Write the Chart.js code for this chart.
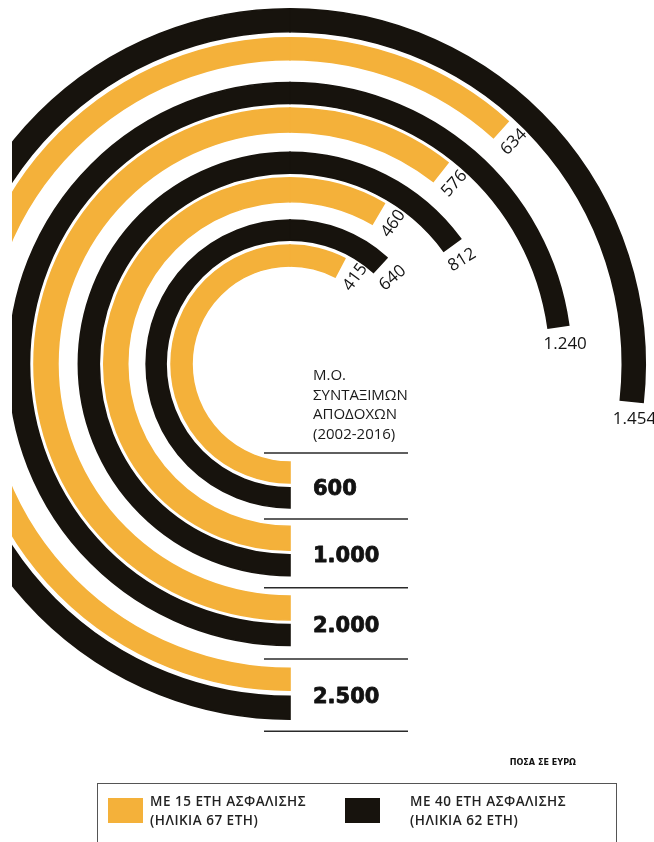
<!DOCTYPE html>
<html lang="el">
<head>
<meta charset="utf-8">
<script src="https://cdn.jsdelivr.net/npm/chart.js@4.4.1/dist/chart.umd.min.js"></script>
<style>
  html, body { margin:0; padding:0; width:654px; height:842px; overflow:hidden; background:#ffffff; }
  #clip { position:absolute; left:12px; top:0; width:642px; height:842px; overflow:hidden; }
  #wrap { position:absolute; left:-78px; top:0; width:740px; height:842px; }
  #header { position:absolute; left:313px; top:365px; font-family:"Open Sans", sans-serif; font-weight:500; font-size:15px; line-height:19.5px; color:#1a1a1a; }
  #unit { position:absolute; right:78px; top:757px; font-family:"DejaVu Sans Condensed","DejaVu Sans",sans-serif; font-weight:bold; font-size:9px; color:#111; }
  #legend { position:absolute; left:97px; top:783px; width:520px; height:80px; border:1px solid #555; box-sizing:border-box; }
  .sw { position:absolute; width:35px; height:25px; }
  .txt { position:absolute; font-family:"Open Sans", sans-serif; font-weight:600; font-size:13.5px; letter-spacing:0.5px; line-height:19px; color:#222; white-space:pre; }
</style>
</head>
<body>
<div id="clip"><div id="wrap"><canvas id="c"></canvas></div></div>
<div id="header">Μ.Ο.<br>ΣΥΝΤΑΞΙΜΩΝ<br>ΑΠΟΔΟΧΩΝ<br>(2002-2016)</div>
<div id="unit">ΠΟΣΑ ΣΕ ΕΥΡΩ</div>
<div id="legend"></div>
<script>
// ---------------- DATA ----------------
const categories = [600, 1000, 2000, 2500];          // average pensionable earnings (2002-2016)
const series15Name = ['ΜΕ 15 ΕΤΗ ΑΣΦΑΛΙΣΗΣ', '(ΗΛΙΚΙΑ 67 ΕΤΗ)'];
const series15 = [415, 460, 576, 634];
const series40Name = ['ΜΕ 40 ΕΤΗ ΑΣΦΑΛΙΣΗΣ', '(ΗΛΙΚΙΑ 62 ΕΤΗ)'];
const series40 = [640, 812, 1240, 1454];
// value swept by a quarter turn (measured clockwise from 12 o'clock)
const quarterTurnValue = 1360;

// ---------------- STYLE / LAYOUT ----------------
const YELLOW = '#F4B13A';
const BLACK = '#17130D';
const CLEAR = 'rgba(0,0,0,0)';
const innerRadiusPx = 98;
const pairLayout = [
  { y: 21, gap: 5,   b: 20 },
  { y: 24, gap: 4.5, b: 21 },
  { y: 24, gap: 4.5, b: 21 },
  { y: 22, gap: 6,   b: 23 }
];
const pairGaps = [18.5, 20.5, 23];

function fmt(v) {
  return String(v).replace(/\B(?=(\d{3})+(?!\d))/g, '.');
}

// ---------------- BUILD DATASETS (outer -> inner) ----------------
const datasets = [];
const valueRefs = [];
const pairRefs = [];
function ring(value, color, weight) {
  const half = 2 * quarterTurnValue;
  return {
    data: [half, value, 2 * quarterTurnValue - value],
    backgroundColor: [color, color, CLEAR],
    borderColor: [color, color, CLEAR],
    borderWidth: [1.6, 1.6, 0],
    borderJoinStyle: 'miter',
    weight: weight,
    hoverOffset: 0
  };
}
function spacer(weight) {
  return { data: [1], backgroundColor: [CLEAR], borderWidth: 0, weight: weight, hoverOffset: 0 };
}
for (let i = categories.length - 1; i >= 0; i--) {
  const L = pairLayout[i];
  const refs = {};
  refs.blackDs = datasets.length;
  valueRefs.push({ ds: datasets.length, value: series40[i] });
  datasets.push(ring(series40[i], BLACK, L.b));
  datasets.push(spacer(L.gap));
  refs.yellowDs = datasets.length;
  valueRefs.push({ ds: datasets.length, value: series15[i] });
  datasets.push(ring(series15[i], YELLOW, L.y));
  if (i > 0) datasets.push(spacer(pairGaps[i - 1]));
  pairRefs[i] = refs;
}

// ---------------- LABEL PLUGIN ----------------
const labelPlugin = {
  id: 'radialLabels',
  afterDatasetsDraw(chart) {
    const ctx = chart.ctx;
    ctx.save();
    ctx.fillStyle = '#141414';
    ctx.font = '500 17px "Open Sans", sans-serif';
    ctx.textAlign = 'center';
    ctx.textBaseline = 'middle';
    valueRefs.forEach(ref => {
      const arc = chart.getDatasetMeta(ref.ds).data[1];
      const p = arc.getProps(['x', 'y', 'endAngle', 'innerRadius', 'outerRadius'], true);
      let rot = Math.atan2(Math.sin(p.endAngle), Math.cos(p.endAngle));
      const flat = rot > -0.25;
      const r = (p.innerRadius + p.outerRadius) / 2 + (flat ? 5 : 0);
      const a = p.endAngle + 17 / r;
      rot = Math.atan2(Math.sin(a), Math.cos(a));
      if (flat) rot = 0;
      const lx = p.x + r * Math.cos(a);
      const ly = p.y + r * Math.sin(a);
      ctx.save();
      ctx.translate(lx, ly);
      ctx.rotate(rot);
      ctx.fillText(fmt(ref.value), 0, 1);
      ctx.restore();
    });

    const first = chart.getDatasetMeta(pairRefs[0].yellowDs).data[0];
    const cx = first.x, cy = first.y;
    const rad = categories.map((c, i) => {
      const ya = chart.getDatasetMeta(pairRefs[i].yellowDs).data[0];
      const ba = chart.getDatasetMeta(pairRefs[i].blackDs).data[0];
      return { yi: ya.innerRadius, yo: ya.outerRadius, bi: ba.innerRadius, bo: ba.outerRadius };
    });
    const lines = [cy + rad[0].yi - 9];
    for (let i = 0; i < rad.length - 1; i++) lines.push(cy + (rad[i].bo + rad[i + 1].yi) / 2 + 2);
    lines.push(cy + rad[rad.length - 1].bo + 12);
    ctx.strokeStyle = '#2a2a2a';
    ctx.lineWidth = 1.5;
    lines.forEach(ly => {
      ctx.beginPath();
      ctx.moveTo(cx - 26, ly);
      ctx.lineTo(cx + 118, ly);
      ctx.stroke();
    });
    ctx.fillStyle = '#121212';
    ctx.strokeStyle = '#121212';
    ctx.lineWidth = 0.8;
    ctx.lineJoin = 'round';
    ctx.font = 'bold 21px "DejaVu Sans", sans-serif';
    ctx.textAlign = 'left';
    ctx.textBaseline = 'alphabetic';
    categories.forEach((c, i) => {
      const mid = cy + (rad[i].yo + rad[i].bi) / 2 + 2;
      ctx.fillText(fmt(c), cx + 23, mid + 7.6);
      ctx.strokeText(fmt(c), cx + 23, mid + 7.6);
    });
    ctx.restore();
  }
};

// ---------------- CHART ----------------
new Chart(document.getElementById('c'), {
  type: 'doughnut',
  data: { labels: ['base', 'value', 'rest'], datasets: datasets },
  options: {
    responsive: true,
    maintainAspectRatio: false,
    animation: false,
    rotation: 180,
    circumference: 360,
    cutout: innerRadiusPx,
    layout: { padding: { top: 8, bottom: 122, left: 0, right: 28 } },
    plugins: { legend: { display: false }, tooltip: { enabled: false } },
    events: []
  },
  plugins: [labelPlugin]
});

// ---------------- LEGEND (HTML) ----------------
const legend = document.getElementById('legend');
[[series15Name, YELLOW, 10, 52], [series40Name, BLACK, 247, 312]].forEach(([name, color, swLeft, txLeft]) => {
  const sw = document.createElement('div');
  sw.className = 'sw';
  sw.style.left = swLeft + 'px';
  sw.style.top = '14px';
  sw.style.background = color;
  const tx = document.createElement('div');
  tx.className = 'txt';
  tx.style.left = txLeft + 'px';
  tx.style.top = '8px';
  tx.textContent = name.join('\n');
  legend.appendChild(sw); legend.appendChild(tx);
});
</script>
</body>
</html>
